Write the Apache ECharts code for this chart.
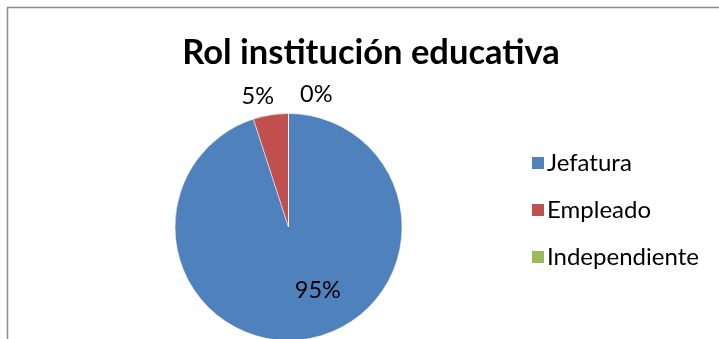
<!DOCTYPE html>
<html>
<head>
<meta charset="utf-8">
<script src="https://cdn.jsdelivr.net/npm/echarts@6/dist/echarts.min.js"></script>
<style>html,body{margin:0;padding:0;background:#fff;}#c{width:719px;height:339px;}</style>
</head>
<body>
<div id="c"></div>
<script>
var categories = ['Jefatura', 'Empleado', 'Independiente'];
var values = [95, 5, 0];
var colors = ['#4F81BD', '#C0504D', '#9BBB59'];
var titleText = 'Rol institución educativa';

var chart = echarts.init(document.getElementById('c'));
var data = categories.map(function (c, i) {
  return {
    name: c,
    value: values[i],
    itemStyle: { color: colors[i] },
    label: { position: i === 0 ? 'inside' : 'outside' }
  };
});
chart.setOption({
  animation: false,
  backgroundColor: '#fff',
  title: {
    text: titleText,
    left: 366,
    textAlign: 'center',
    top: 30,
    textStyle: { fontFamily: 'Lato', fontWeight: 'bold', fontSize: 34.5, color: '#000' }
  },
  legend: {
    orient: 'vertical',
    left: 525,
    top: 146,
    itemWidth: 14,
    itemHeight: 14,
    itemGap: 23,
    icon: 'rect',
    textStyle: { fontFamily: 'Lato', fontSize: 24, color: '#000', padding: [0, 0, 0, -3] },
    data: categories
  },
  graphic: [
    { type: 'line', shape: { x1: 7, y1: 7.5, x2: 719, y2: 7.5 }, style: { stroke: '#8c8c8c', lineWidth: 1.5 } },
    { type: 'line', shape: { x1: 7.5, y1: 7, x2: 7.5, y2: 339 }, style: { stroke: '#8c8c8c', lineWidth: 1.5 } }
  ],
  series: [{
    type: 'pie',
    center: [288.5, 227],
    radius: 113.5,
    startAngle: 90,
    clockwise: true,
    avoidLabelOverlap: false,
    stillShowZeroSum: true,
    itemStyle: { borderColor: '#fff', borderWidth: 0.5 },
    label: {
      show: true,
      formatter: function (p) { return Math.round(p.percent) + '%'; },
      fontFamily: 'Lato',
      fontSize: 23.5,
      color: '#000'
    },
    labelLine: { show: false, length: 17, length2: 0 },
    labelLayout: function (p) {
      if (p.dataIndex === 0) return { dx: 20, dy: 4 };
      if (p.dataIndex === 1) return { dx: 11, dy: -2 };
      return { dx: 49, dy: -2 };
    },
    emphasis: { disabled: true },
    data: data
  }]
});
</script>
</body>
</html>
